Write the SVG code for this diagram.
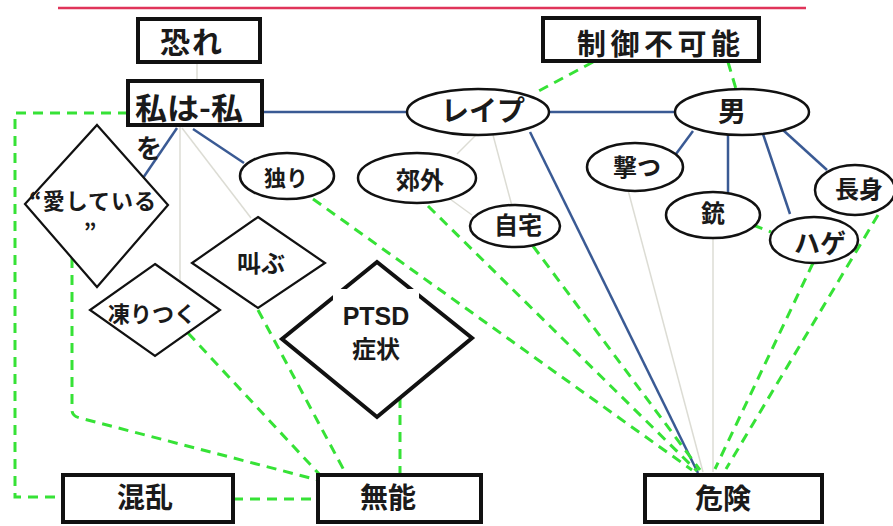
<svg xmlns="http://www.w3.org/2000/svg" width="893" height="526" viewBox="0 0 893 526">
<style>
.box{fill:#fff;stroke:#111;stroke-width:4}
.ell{fill:#fff;stroke:#111;stroke-width:2.5}
.dia{fill:#fff;stroke:#111;stroke-width:2.2}
.dia2{fill:#fff;stroke:#111;stroke-width:4}
.t{font-family:"Noto Sans CJK JP","Liberation Sans",sans-serif;font-weight:700;fill:#1a1a1a;dominant-baseline:central}
.c{text-anchor:middle}
.blue{stroke:#3a5a94;stroke-width:2.5;fill:none}
.gray{stroke:#dcdcd4;stroke-width:1.5;fill:none}
.grn{stroke:#36e236;stroke-width:3;stroke-dasharray:10 7;fill:none}
</style>
<line x1="58" y1="8" x2="806" y2="8" stroke="#e0345a" stroke-width="2.5"/>
<g id="connectors">
<line class="gray" x1="197" y1="62" x2="197" y2="80"/>
<line class="blue" x1="262" y1="112" x2="408" y2="112"/>
<line class="blue" x1="549" y1="112" x2="676" y2="112"/>
<line class="blue" x1="177" y1="128" x2="143" y2="178"/>
<line class="blue" x1="193" y1="129" x2="244" y2="163"/>
<line class="gray" x1="180" y1="127" x2="180" y2="282"/>
<line class="gray" x1="182" y1="128" x2="251" y2="218"/>
<line class="gray" x1="476" y1="135" x2="457" y2="154"/>
<line class="gray" x1="493" y1="135" x2="512" y2="206"/>
<line class="gray" x1="450" y1="199" x2="472" y2="215"/>
<line class="blue" x1="530" y1="132" x2="698" y2="473"/>
<line class="blue" x1="693" y1="131" x2="676" y2="154"/>
<line class="blue" x1="728" y1="135" x2="728" y2="193"/>
<line class="blue" x1="763" y1="134" x2="790" y2="214"/>
<line class="blue" x1="783" y1="130" x2="827" y2="170"/>
<line class="gray" x1="628" y1="190" x2="703" y2="472"/>
<line class="gray" x1="713" y1="236" x2="713" y2="472"/>
<path class="grn" d="M593 62 L533 94"/>
<path class="grn" d="M728 62 L736 89"/>
<path class="grn" d="M128 113 L15 113 L15 497 L63 497"/>
<path class="grn" d="M233 499 L317 499"/>
<path class="grn" d="M72 258 L72 410 Q72 416 80 418 L318 480"/>
<path class="grn" d="M188 333 L320 475"/>
<path class="grn" d="M258 310 L346 474"/>
<path class="grn" d="M400 398 L400 474"/>
<path class="grn" d="M313 199 L692 470"/>
<path class="grn" d="M428 206 L697 471"/>
<path class="grn" d="M533 246 L700 470"/>
<path class="grn" d="M813 263 L715 469"/>
<path class="grn" d="M878 215 L726 469"/>
<path class="grn" stroke-dasharray="5 4" stroke-width="2.5" d="M753 225 L771 232"/>
</g>
<g id="n-osore"><rect class="box" x="138" y="19" width="122" height="43"/><text class="t" x="160" y="40" font-size="30" textLength="62">恐れ</text></g>
<g id="n-watashi"><rect class="box" x="128" y="81" width="134" height="44"/><text class="t" x="135" y="106" font-size="30" textLength="108" lengthAdjust="spacingAndGlyphs">私は-私</text><text class="t" x="136" y="146" font-size="26">を</text></g>
<g id="n-seigyo"><rect class="box" x="543" y="18" width="216" height="43"/><text class="t" x="577" y="42" font-size="29" textLength="163">制御不可能</text></g>
<g id="n-rape"><ellipse class="ell" cx="478" cy="112" rx="71" ry="23"/><text class="t c" x="483" y="109" font-size="28">レイプ</text></g>
<g id="n-otoko"><ellipse class="ell" cx="742" cy="112" rx="67" ry="23"/><text class="t c" x="732" y="110" font-size="28">男</text></g>
<g id="n-aishiteiru"><polygon class="dia" points="97,125 168,205 97,287 25,204"/><text class="t" x="29" y="199" font-size="22" textLength="127">“愛している</text><text class="t c" x="90" y="230" font-size="22">”</text></g>
<g id="n-hitori"><ellipse class="ell" cx="287" cy="176" rx="47" ry="23"/><text class="t c" x="286" y="176" font-size="22">独り</text></g>
<g id="n-kougai"><ellipse class="ell" cx="417" cy="178" rx="59" ry="25"/><text class="t c" x="420" y="178" font-size="24">郊外</text></g>
<g id="n-jitaku"><ellipse class="ell" cx="515" cy="226" rx="45" ry="21"/><text class="t c" x="518" y="223" font-size="24">自宅</text></g>
<g id="n-utsu"><ellipse class="ell" cx="635" cy="167" rx="48" ry="24"/><text class="t c" x="637" y="165" font-size="24">撃つ</text></g>
<g id="n-juu"><ellipse class="ell" cx="713" cy="215" rx="47" ry="23"/><text class="t c" x="713" y="211" font-size="24">銃</text></g>
<g id="n-hage"><ellipse class="ell" cx="814" cy="240" rx="44" ry="23"/><text class="t c" x="820" y="241" font-size="26">ハゲ</text></g>
<g id="n-choushin"><ellipse class="ell" cx="855" cy="190" rx="40" ry="25"/><text class="t c" x="859" y="187" font-size="24">長身</text></g>
<g id="n-sakebu"><polygon class="dia" points="258,217 325,263 258,308 192,263"/><text class="t c" x="261" y="261" font-size="24">叫ぶ</text></g>
<g id="n-kooritsuku"><polygon class="dia" points="155,264 220,310 155,356 90,310"/><text class="t c" x="152" y="312" font-size="22">凍りつく</text></g>
<g id="n-ptsd"><polygon class="dia2" points="377,262 472,338 377,417 282,339"/><rect x="333" y="289" width="86" height="80" fill="#fff"/><text x="376" y="325" font-family="Liberation Sans,Arial,sans-serif" font-weight="700" font-size="25" fill="#1a1a1a" text-anchor="middle">PTSD</text><text class="t c" x="376" y="347" font-size="24">症状</text></g>
<g id="n-konran"><rect class="box" x="63" y="475" width="170" height="47"/><text class="t c" x="145" y="496" font-size="28">混乱</text></g>
<g id="n-munou"><rect class="box" x="318" y="475" width="163" height="47"/><text class="t c" x="388" y="496" font-size="28">無能</text></g>
<g id="n-kiken"><rect class="box" x="645" y="475" width="177" height="47"/><text class="t c" x="723" y="497" font-size="28">危険</text></g>
</svg>
